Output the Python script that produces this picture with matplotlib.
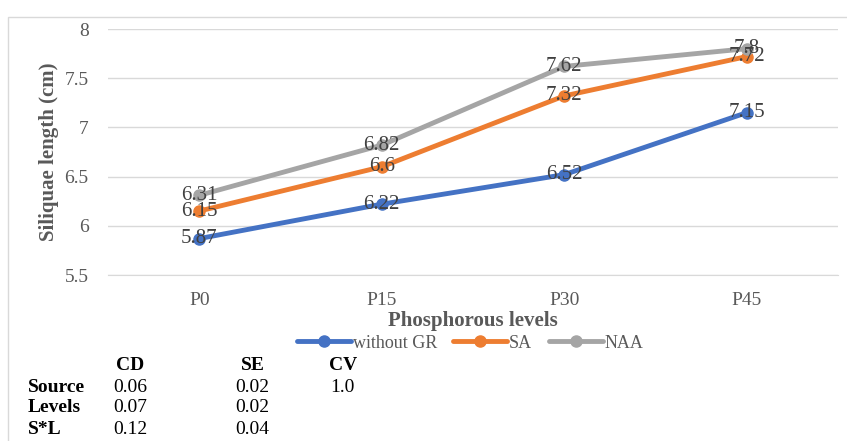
import matplotlib.pyplot as plt
from matplotlib.patches import Rectangle

plt.rcParams['font.family'] = ['Liberation Serif', 'DejaVu Serif']

levels = ['P0', 'P15', 'P30', 'P45']
without_gr = [5.87, 6.22, 6.52, 7.15]
sa = [6.15, 6.6, 7.32, 7.72]
naa = [6.31, 6.82, 7.62, 7.8]
series_names = ['without GR', 'SA', 'NAA']
series_colors = ['#4472C4', '#ED7D31', '#A5A5A5']

table_cols = ['CD', 'SE', 'CV']
table_rows = ['Source', 'Levels', 'S*L']
cd_vals = ['0.06', '0.07', '0.12']
se_vals = ['0.02', '0.02', '0.04']
cv_vals = ['1.0', '', '']

W, H = 847, 441
fig = plt.figure(figsize=(W / 100, H / 100), dpi=100)

# light frame around the chart area
fig.patches.append(Rectangle((8 / W, -0.05), 1.1, 1 - 17 / H + 0.05,
                             transform=fig.transFigure, fill=False,
                             edgecolor='#D9D9D9', linewidth=1))

ax = fig.add_axes([108 / W, 1 - 275 / H, (838 - 108) / W, (275 - 29) / H])
x = list(range(len(levels)))
for vals, name, col in zip([without_gr, sa, naa], series_names, series_colors):
    ax.plot(x, vals, color=col, linewidth=3.5, marker='o', markersize=8,
            label=name, solid_capstyle='round', zorder=3)
for vals in [without_gr, sa, naa]:
    for xi, v in zip(x, vals):
        ax.text(xi, v, f'{v:g}', ha='center', va='center', fontsize=15,
                color='#404040', zorder=4)

ax.set_xlim(-0.5, 3.5)
ax.set_ylim(5.5, 8)
ax.set_yticks([5.5, 6, 6.5, 7, 7.5, 8])
ax.set_yticklabels(['5.5', '6', '6.5', '7', '7.5', '8'])
ax.set_xticks(x)
ax.set_xticklabels(levels)
ax.tick_params(axis='both', length=0, labelsize=14, labelcolor='#595959')
ax.tick_params(axis='y', pad=14)
ax.tick_params(axis='x', pad=12)
ax.grid(axis='y', color='#D9D9D9', linewidth=1)
ax.set_axisbelow(True)
for s in ['top', 'right', 'left']:
    ax.spines[s].set_visible(False)
ax.spines['bottom'].set_color('#D9D9D9')

ax.set_xlabel('Phosphorous levels', fontsize=15, fontweight='bold',
              color='#595959', labelpad=2)
ax.set_ylabel('Siliquae length (cm)', fontsize=15, fontweight='bold',
              color='#595959', labelpad=4)

leg = ax.legend(loc='center', bbox_to_anchor=((470 - 108) / (838 - 108), (275 - 343) / (275 - 29)),
                ncol=3, frameon=False, fontsize=13, handlelength=3.0,
                columnspacing=0.9, handletextpad=0.1, borderaxespad=0)
for t in leg.get_texts():
    t.set_color('#595959')

# statistics table under the chart
col_x = [113, 235, 330]
head_x = [130, 253, 343]
for hx, c in zip(head_x, table_cols):
    fig.text(hx / W, 1 - 366 / H, c, ha='center', va='center', fontsize=14,
             fontweight='bold', color='black')
row_y = [387, 408, 429]
for ry, r, a, b, c in zip(row_y, table_rows, cd_vals, se_vals, cv_vals):
    fig.text(28 / W, 1 - ry / H, r, ha='left', va='center', fontsize=14,
             fontweight='bold', color='black')
    for cx, v in zip(col_x, [a, b, c]):
        fig.text(cx / W, 1 - ry / H, v, ha='left', va='center', fontsize=14,
                 color='black')

fig.savefig('out.png', dpi=100)
